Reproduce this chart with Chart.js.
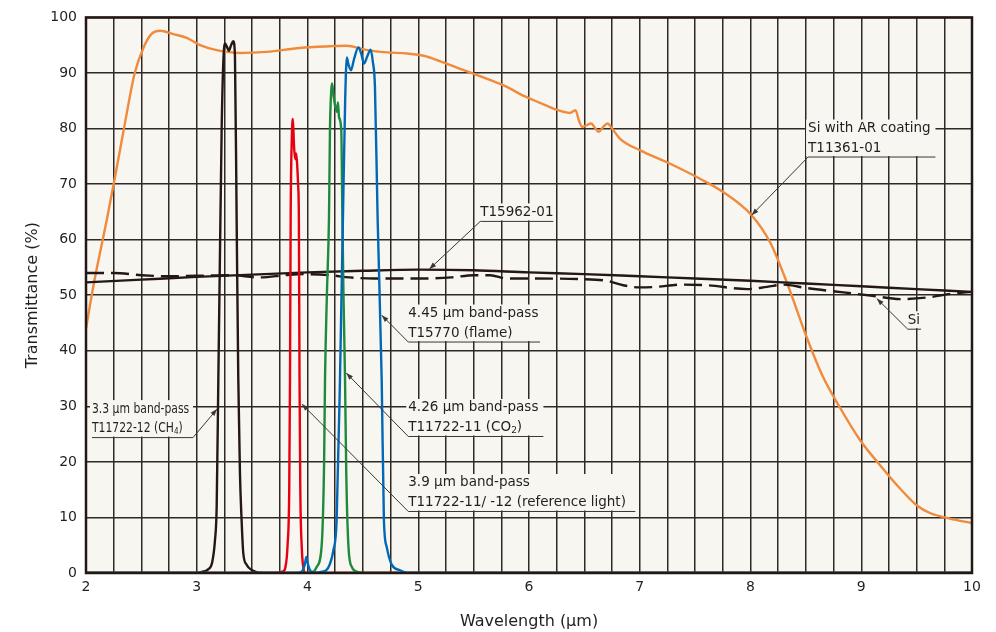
<!DOCTYPE html>
<html>
<head>
<meta charset="utf-8">
<script src="https://cdn.jsdelivr.net/npm/chart.js@4/dist/chart.umd.min.js"></script>
<style>
  body { margin: 0; background: #fff; }
</style>
</head>
<body>
<canvas id="chart" width="996" height="632"></canvas>
<script>
// wavelength (µm) / transmittance (%)
const siArWl = [2.0, 2.07, 2.19, 2.25, 2.34, 2.44, 2.52, 2.59, 2.67, 2.79, 2.91, 3.03, 3.18, 3.39, 3.63, 3.93, 4.2, 4.35, 4.54, 4.72, 4.9, 5.05, 5.2, 5.4, 5.6, 5.8, 5.92, 6.1, 6.22, 6.37, 6.42, 6.45, 6.48, 6.52, 6.56, 6.6, 6.63, 6.67, 6.71, 6.75, 6.82, 7.0, 7.27, 7.54, 7.75, 8.01, 8.18, 8.33, 8.51, 8.65, 8.81, 8.99, 9.17, 9.35, 9.5, 9.62, 9.8, 10.0];
const siArT  = [44, 52, 63.8, 70, 79.7, 90, 94.6, 97, 97.6, 97, 96.3, 95, 94.1, 93.6, 93.8, 94.5, 94.8, 94.9, 94.1, 93.7, 93.5, 93.1, 92.1, 90.6, 89.1, 87.5, 86.2, 84.6, 83.6, 82.8, 83.3, 81.5, 80.3, 80.6, 80.9, 80.0, 79.4, 80.3, 80.9, 80.0, 78.2, 76.1, 73.7, 71, 68.6, 64.4, 59.4, 52.2, 42.3, 35.5, 29.7, 23.9, 19.4, 15.2, 12.2, 10.8, 9.8, 9.0];

const t15962Wl = [2, 2.5, 3, 3.5, 4, 4.5, 5, 5.5, 6, 6.5, 7, 7.5, 8, 8.5, 9, 9.5, 10];
const t15962T  = [52.3, 52.8, 53.3, 53.7, 54.1, 54.4, 54.6, 54.5, 54.1, 53.8, 53.4, 53.0, 52.6, 52.1, 51.6, 51.1, 50.6];

const siWl = [2.0, 2.25, 2.5, 2.75, 3.0, 3.3, 3.57, 3.8, 3.96, 4.2, 4.38, 4.6, 4.8, 5.04, 5.3, 5.5, 5.65, 5.8, 6.0, 6.46, 6.7, 6.85, 7.0, 7.15, 7.36, 7.6, 7.97, 8.15, 8.3, 8.5, 8.84, 9.1, 9.35, 9.6, 9.83, 10.0];
const siT  = [54, 54, 53.6, 53.4, 53.5, 53.6, 53.2, 53.6, 53.8, 53.6, 53.2, 53.0, 53.0, 53.0, 53.2, 53.6, 53.6, 53.0, 53.0, 52.9, 52.6, 51.8, 51.4, 51.5, 51.9, 51.8, 51.1, 51.5, 51.9, 51.3, 50.5, 49.9, 49.3, 49.6, 50.3, 50.6];

const ch4Wl = [2.0, 3.0, 3.06, 3.1, 3.14, 3.165, 3.18, 3.195, 3.21, 3.225, 3.24, 3.255, 3.275, 3.29, 3.31, 3.33, 3.345, 3.36, 3.375, 3.39, 3.405, 3.42, 3.45, 3.5, 3.6, 10.0];
const ch4T  = [0, 0, 0.3, 0.6, 2, 6, 12, 35, 58, 80, 92, 95.3, 94.6, 94, 95, 95.7, 93, 64, 35, 18, 9.5, 3.6, 1.5, 0.5, 0, 0];

const refWl = [2.0, 3.7, 3.78, 3.8, 3.82, 3.835, 3.842, 3.848, 3.858, 3.868, 3.878, 3.888, 3.897, 3.905, 3.915, 3.922, 3.928, 3.935, 3.948, 3.962, 3.98, 10.0];
const refT  = [0, 0, 0.3, 1, 5, 15, 35, 64, 78, 81.7, 77, 74.5, 75.5, 74, 70, 64, 35, 15, 4.7, 1, 0, 0];

const co2Wl = [2.0, 4.0, 4.06, 4.083, 4.127, 4.15, 4.158, 4.175, 4.194, 4.203, 4.215, 4.222, 4.235, 4.25, 4.265, 4.275, 4.285, 4.305, 4.315, 4.325, 4.339, 4.35, 4.37, 4.4, 4.45, 4.5, 10.0];
const co2T  = [0, 0, 0.3, 1.1, 4.7, 20, 34.7, 50, 64, 80, 87, 88.1, 86, 84, 83, 84.7, 82, 79.7, 64, 50, 34.7, 18, 4.7, 1.1, 0.2, 0, 0];

const flameWl = [2.0, 3.9, 3.95, 3.975, 3.99, 4.005, 4.03, 4.07, 4.12, 4.17, 4.2, 4.233, 4.263, 4.293, 4.32, 4.34, 4.355, 4.37, 4.393, 4.42, 4.46, 4.485, 4.51, 4.54, 4.57, 4.59, 4.609, 4.633, 4.67, 4.69, 4.715, 4.76, 4.835, 4.9, 10.0];
const flameT  = [0, 0, 0.3, 1.5, 2.9, 1.5, 0.3, 0.05, 0.2, 0.5, 1.5, 4, 9.5, 34.7, 64, 85, 92.8, 91.5, 90.5, 92.5, 94.6, 93.5, 91.7, 93, 94.2, 92, 87.5, 64, 34.7, 9.5, 4.7, 1.5, 0.5, 0, 0];

const xTicksMajor = [2, 3, 4, 5, 6, 7, 8, 9, 10];

const plotFill = '#f8f6f0';
const ink = '#231f20';
const pts = (wl, t) => wl.map((w, i) => ({ x: w, y: t[i] }));

// callouts: text lines, text left (µm), first line centre (%), underline end (µm), arrow tip
const notes = [
  { text: ['Si with AR coating', 'T11361-01'], wl: 8.52, t: 80.0, end: 9.67, side: 'left', tip: [8.01, 64.4] },
  { text: ['T15962-01'], wl: 5.56, t: 64.9, end: 6.22, side: 'left', tip: [5.1, 54.7] },
  { text: ['4.45 \u03bcm band-pass', 'T15770 (flame)'], wl: 4.91, t: 46.7, end: 6.1, side: 'left', tip: [4.67, 46.4] },
  { text: ['4.26 \u03bcm band-pass', 'T11722-11 (CO_2)'], wl: 4.91, t: 29.7, end: 6.13, side: 'left', tip: [4.35, 36] },
  { text: ['3.9 \u03bcm band-pass', 'T11722-11/ -12 (reference light)'], wl: 4.91, t: 16.2, end: 6.96, side: 'left', tip: [3.95, 30.4] },
  { text: ['3.3 \u03bcm band-pass', 'T11722-12 (CH_4)'], wl: 2.054, t: 29.5, end: 2.966, side: 'right', tip: [3.183, 29.5], squeeze: 0.8 },
  { text: ['Si'], wl: 9.42, t: 45.5, end: 9.54, side: 'left', tip: [9.14, 49.4] }
];

function drawRich(ctx, s, x, y, squeeze) {
  const parts = s.split(/_(\d)/);
  ctx.save();
  ctx.translate(x, y);
  ctx.scale(squeeze, 1);
  let cx = 0;
  parts.forEach((p, i) => {
    if (!p) return;
    const sub = i % 2 === 1;
    ctx.font = sub ? '9px "DejaVu Sans"' : '13.5px "DejaVu Sans"';
    ctx.fillText(p, cx, sub ? 3 : 0);
    cx += ctx.measureText(p).width;
  });
  ctx.restore();
}

const plotBg = {
  id: 'plotBg',
  beforeDraw(chart) {
    const { ctx, chartArea: a } = chart;
    ctx.save();
    ctx.fillStyle = plotFill;
    ctx.fillRect(a.left, a.top, a.width, a.height);
    ctx.restore();
  }
};

const callouts = {
  id: 'callouts',
  afterDatasetsDraw(chart) {
    const { ctx, chartArea: a } = chart;
    const xs = chart.scales.x, ys = chart.scales.y;
    ctx.save();
    notes.forEach(n => {
      const x0 = xs.getPixelForValue(n.wl);
      const y0 = ys.getPixelForValue(n.t);
      const x1 = xs.getPixelForValue(n.end);
      const yU = y0 + 19.5 * (n.text.length - 1) + 9;
      ctx.fillStyle = plotFill;
      ctx.fillRect(x0 - 2, y0 - 9, x1 - x0 + 2, yU - y0 + 8);
      ctx.fillStyle = ink;
      ctx.textBaseline = 'middle';
      ctx.textAlign = 'left';
      n.text.forEach((s, i) => drawRich(ctx, s, x0, y0 + i * 19.5, n.squeeze || 1));
      ctx.strokeStyle = '#3c3735';
      ctx.lineWidth = 1;
      ctx.beginPath();
      ctx.moveTo(x0, yU);
      ctx.lineTo(x1, yU);
      const sx = n.side === 'right' ? x1 : x0;
      const tx = xs.getPixelForValue(n.tip[0]), ty = ys.getPixelForValue(n.tip[1]);
      ctx.moveTo(sx, yU);
      ctx.lineTo(tx, ty);
      ctx.stroke();
      // arrow head
      const ang = Math.atan2(ty - yU, tx - sx);
      ctx.fillStyle = '#3c3735';
      ctx.beginPath();
      ctx.moveTo(tx, ty);
      ctx.lineTo(tx - 7 * Math.cos(ang) + 2.5 * Math.sin(ang), ty - 7 * Math.sin(ang) - 2.5 * Math.cos(ang));
      ctx.lineTo(tx - 7 * Math.cos(ang) - 2.5 * Math.sin(ang), ty - 7 * Math.sin(ang) + 2.5 * Math.cos(ang));
      ctx.closePath();
      ctx.fill();
    });
    // frame
    ctx.strokeStyle = '#231815';
    ctx.lineWidth = 2.5;
    ctx.strokeRect(a.left, a.top, a.width, a.height);
    ctx.restore();
  }
};

const line = (data, color, order, extra) => Object.assign({
  data, borderColor: color, borderWidth: 2.4, pointRadius: 0,
  cubicInterpolationMode: 'monotone', fill: false, order
}, extra || {});

new Chart(document.getElementById('chart'), {
  type: 'line',
  data: {
    datasets: [
      line(pts(siArWl, siArT), '#f08a3c', 10),
      line(pts(siWl, siT), '#231815', 9, { borderDash: [18, 7] }),
      line(pts(t15962Wl, t15962T), '#231815', 8),
      line(pts(ch4Wl, ch4T), '#231815', 4),
      line(pts(refWl, refT), '#e60012', 3),
      line(pts(co2Wl, co2T), '#1e8a3e', 2),
      line(pts(flameWl, flameT), '#0068b7', 1)
    ]
  },
  options: {
    responsive: false,
    animation: false,
    layout: { padding: { top: 17, right: 24, left: 0, bottom: 0 } },
    plugins: { legend: { display: false }, tooltip: { enabled: false } },
    scales: {
      x: {
        type: 'linear', min: 2, max: 10,
        afterFit: s => { s.height = 59; },
        ticks: {
          stepSize: 0.25, autoSkip: false, maxRotation: 0, padding: 6,
          color: ink, font: { family: 'DejaVu Sans', size: 14 },
          callback: v => xTicksMajor.includes(Math.round(v)) && Math.abs(v - Math.round(v)) < 1e-6 ? Math.round(v) : ''
        },
        grid: { color: '#2f2926', lineWidth: 1.5, drawTicks: false },
        border: { display: false },
        title: { display: true, text: 'Wavelength (\u03bcm)', color: ink, font: { family: 'DejaVu Sans', size: 16 }, padding: { top: 0, bottom: 1 } }
      },
      y: {
        min: 0, max: 100,
        afterFit: s => { s.width = 86; },
        ticks: { stepSize: 10, padding: 9, color: ink, font: { family: 'DejaVu Sans', size: 14 } },
        grid: { color: '#2f2926', lineWidth: 1.5, drawTicks: false },
        border: { display: false },
        title: { display: true, text: 'Transmittance (%)', color: ink, font: { family: 'DejaVu Sans', size: 16 }, padding: { top: 23, bottom: 0 } }
      }
    }
  },
  plugins: [plotBg, callouts]
});
</script>
</body>
</html>
